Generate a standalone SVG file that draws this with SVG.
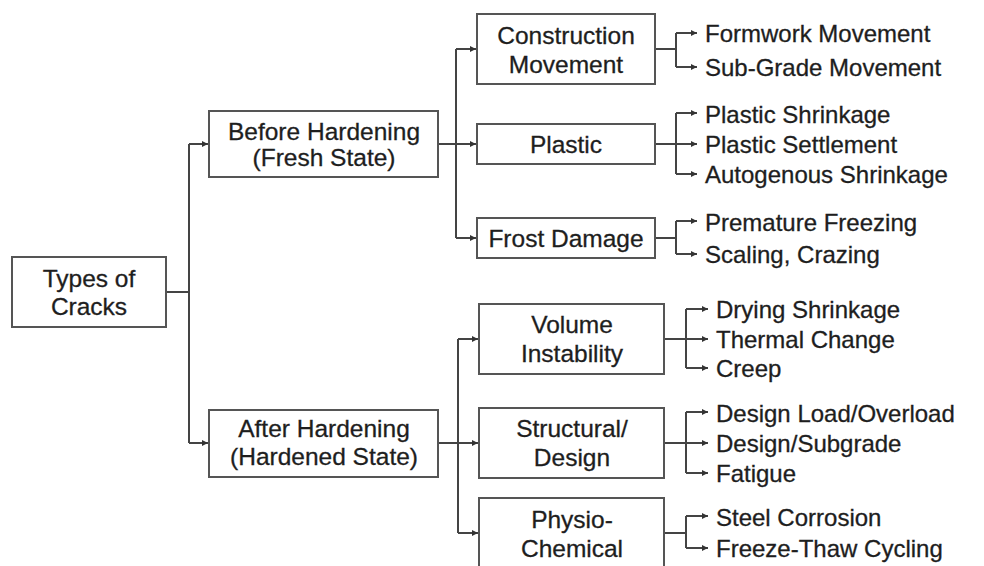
<svg xmlns="http://www.w3.org/2000/svg" width="984" height="566" viewBox="0 0 984 566">
<style>
.box{fill:#fff;stroke:#555;stroke-width:2}
.t{font-family:"Liberation Sans",Arial,sans-serif;font-size:24.5px;fill:#1e1e1e;stroke:#1e1e1e;stroke-width:0.3}
.c{text-anchor:middle}
.l{font-family:"Liberation Sans",Arial,sans-serif;font-size:24px;fill:#1e1e1e;stroke:#1e1e1e;stroke-width:0.3}
.ln{fill:none;stroke:#444;stroke-width:2}
.ar{fill:none;stroke:#444;stroke-width:2;marker-end:url(#ah)}
</style>
<defs>
<marker id="ah" markerUnits="userSpaceOnUse" markerWidth="7" markerHeight="7" refX="6" refY="3.5" orient="auto">
<path d="M0,0.5 L6,3.5 L0,6.5 z" fill="#333"/>
</marker>
</defs>
<rect width="984" height="566" fill="#fff"/>
<g id="connectors">
<path class="ln" d="M166,292 H189 M189,144 V443"/>
<path class="ar" d="M189,144 H208"/>
<path class="ar" d="M189,443 H208"/>
<path class="ln" d="M438,144 H456 M456,49 V238"/>
<path class="ar" d="M456,49 H476"/>
<path class="ar" d="M456,144 H476"/>
<path class="ar" d="M456,238 H476"/>
<path class="ln" d="M438,443 H458 M458,339 V533"/>
<path class="ar" d="M458,339 H478"/>
<path class="ar" d="M458,443 H478"/>
<path class="ar" d="M458,533 H478"/>
<path class="ln" d="M655,49 H676 M676,33 V67"/>
<path class="ar" d="M676,33 H697"/>
<path class="ar" d="M676,67 H697"/>
<path class="ln" d="M655,144 H676 M676,113 V174"/>
<path class="ar" d="M676,113 H697"/>
<path class="ar" d="M676,144 H697"/>
<path class="ar" d="M676,174 H697"/>
<path class="ln" d="M655,238 H676 M676,221 V254"/>
<path class="ar" d="M676,221 H697"/>
<path class="ar" d="M676,254 H697"/>
<path class="ln" d="M664,339 H686 M686,309 V368"/>
<path class="ar" d="M686,309 H708"/>
<path class="ar" d="M686,339 H708"/>
<path class="ar" d="M686,368 H708"/>
<path class="ln" d="M664,443 H686 M686,412 V473"/>
<path class="ar" d="M686,412 H708"/>
<path class="ar" d="M686,443 H708"/>
<path class="ar" d="M686,473 H708"/>
<path class="ln" d="M664,533 H686 M686,516 V548"/>
<path class="ar" d="M686,516 H708"/>
<path class="ar" d="M686,548 H708"/>
</g>
<g id="n-types"><rect class="box" x="12" y="257" width="154" height="70"/><text class="t c" x="89" y="287">Types of</text><text class="t c" x="89" y="315">Cracks</text></g>
<g id="n-before"><rect class="box" x="209" y="111" width="229" height="66"/><text class="t c" x="324" y="140">Before Hardening</text><text class="t c" x="324" y="166">(Fresh State)</text></g>
<g id="n-after"><rect class="box" x="209" y="410" width="229" height="67"/><text class="t c" x="324" y="437">After Hardening</text><text class="t c" x="324" y="465">(Hardened State)</text></g>
<g id="n-construction"><rect class="box" x="477" y="14" width="178" height="70"/><text class="t c" x="566" y="44">Construction</text><text class="t c" x="566" y="73">Movement</text></g>
<g id="n-plastic"><rect class="box" x="477" y="124" width="178" height="40"/><text class="t c" x="566" y="153">Plastic</text></g>
<g id="n-frost"><rect class="box" x="477" y="218" width="178" height="40"/><text class="t c" x="566" y="247">Frost Damage</text></g>
<g id="n-volume"><rect class="box" x="479" y="304" width="185" height="70"/><text class="t c" x="572" y="333">Volume</text><text class="t c" x="572" y="362">Instability</text></g>
<g id="n-structural"><rect class="box" x="479" y="408" width="185" height="70"/><text class="t c" x="572" y="437">Structural/</text><text class="t c" x="572" y="466">Design</text></g>
<g id="n-physio"><rect class="box" x="479" y="498" width="185" height="72"/><text class="t c" x="572" y="528">Physio-</text><text class="t c" x="572" y="557">Chemical</text></g>
<g id="n-formwork"><text class="l" x="705" y="42">Formwork Movement</text></g>
<g id="n-subgrade"><text class="l" x="705" y="76">Sub-Grade Movement</text></g>
<g id="n-pshrink"><text class="l" x="705" y="123">Plastic Shrinkage</text></g>
<g id="n-psettle"><text class="l" x="705" y="153">Plastic Settlement</text></g>
<g id="n-auto"><text class="l" x="705" y="183">Autogenous Shrinkage</text></g>
<g id="n-premature"><text class="l" x="705" y="231">Premature Freezing</text></g>
<g id="n-scaling"><text class="l" x="705" y="263">Scaling, Crazing</text></g>
<g id="n-drying"><text class="l" x="716" y="318">Drying Shrinkage</text></g>
<g id="n-thermal"><text class="l" x="716" y="348">Thermal Change</text></g>
<g id="n-creep"><text class="l" x="716" y="377">Creep</text></g>
<g id="n-load"><text class="l" x="716" y="422">Design Load/Overload</text></g>
<g id="n-dsub"><text class="l" x="716" y="452">Design/Subgrade</text></g>
<g id="n-fatigue"><text class="l" x="716" y="482">Fatigue</text></g>
<g id="n-steel"><text class="l" x="716" y="526">Steel Corrosion</text></g>
<g id="n-freeze"><text class="l" x="716" y="557">Freeze-Thaw Cycling</text></g>
</svg>
